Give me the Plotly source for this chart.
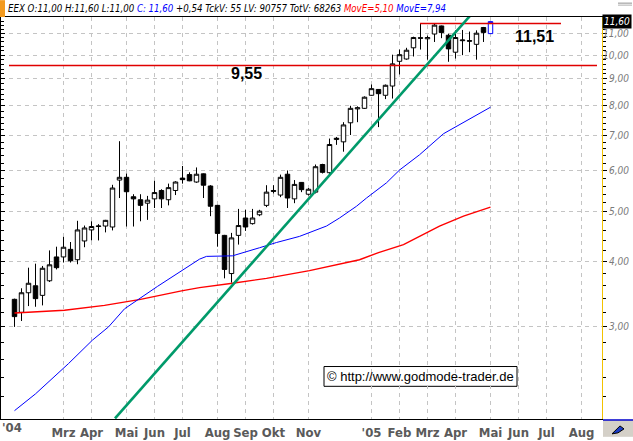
import math
import pandas as pd
import plotly.graph_objects as go

# ---------------- data ----------------
first_week = "2004-01-12"

opens = [3.39, 3.20, 3.49, 3.60, 3.45, 3.68, 4.09, 4.09, 4.23, 4.04,
         4.39, 4.61, 4.68, 4.69, 4.67, 5.75, 5.82, 5.34, 5.27, 5.19,
         5.29, 5.49, 5.27, 5.49, 5.80, 5.89, 5.70, 5.91, 5.60, 5.14,
         4.50, 3.80, 4.50, 4.86, 4.74, 4.93, 5.14, 5.49, 5.38, 5.90,
         5.29, 5.69, 5.40, 5.45, 6.16, 5.94, 6.88, 6.81, 7.41, 7.88,
         7.90, 8.37, 8.59, 8.37, 8.72, 9.73, 9.83, 10.33, 10.80, 10.75,
         10.98, 11.38, 10.92, 10.13, 10.66, 10.66, 10.49, 11.30]
highs = [3.40, 3.56, 3.90, 3.97, 3.93, 4.21, 4.28, 4.47, 4.37, 4.80,
         4.70, 4.79, 4.73, 4.82, 5.63, 6.83, 5.92, 5.40, 5.40, 5.36,
         5.73, 5.52, 5.66, 5.72, 6.12, 5.95, 6.08, 5.92, 5.62, 5.15,
         4.51, 4.55, 5.06, 5.04, 5.06, 5.04, 5.62, 5.62, 5.89, 6.00,
         5.75, 5.70, 5.55, 6.16, 6.18, 6.91, 6.96, 7.43, 7.99, 7.97,
         8.33, 8.78, 8.60, 8.78, 10.02, 10.25, 10.33, 10.85, 11.51, 10.90,
         11.51, 11.40, 11.00, 11.16, 11.18, 11.10, 11.16, 11.33]
lows = [3.00, 3.08, 3.29, 3.28, 3.30, 3.66, 3.87, 3.99, 3.99, 3.96,
        4.27, 4.40, 4.40, 4.56, 4.60, 5.31, 4.68, 4.68, 4.79, 4.82,
        5.08, 5.08, 5.14, 5.38, 5.66, 5.72, 5.68, 5.31, 4.90, 4.28,
        3.72, 3.65, 4.32, 4.59, 4.72, 4.90, 5.10, 5.42, 5.33, 5.08,
        5.19, 5.45, 5.37, 5.42, 5.92, 5.89, 6.72, 6.52, 7.02, 7.43,
        7.88, 8.35, 7.27, 8.23, 8.25, 9.18, 9.80, 9.94, 10.25, 9.80,
        10.60, 10.78, 9.71, 9.85, 10.00, 10.13, 9.80, 10.60]
closes = [3.14, 3.49, 3.64, 3.40, 3.89, 3.95, 3.90, 4.27, 4.02, 4.61,
          4.65, 4.68, 4.69, 4.81, 5.55, 5.82, 5.46, 5.29, 5.14, 5.26,
          5.44, 5.29, 5.56, 5.70, 5.76, 5.73, 5.90, 5.62, 5.12, 4.54,
          3.87, 4.45, 4.70, 4.67, 4.86, 5.01, 5.45, 5.47, 5.82, 5.31,
          5.64, 5.51, 5.52, 6.10, 5.95, 6.73, 6.92, 7.34, 7.90, 7.92,
          8.30, 8.62, 8.43, 8.75, 9.62, 10.02, 10.22, 10.81, 10.78, 10.81,
          11.42, 11.05, 10.28, 10.81, 10.69, 10.64, 11.02, 11.06]

# last (current) week, from the header: O:11,00 H:11,60 L:11,00 C:11,60
last_ohlc = [11.00, 11.60, 11.00, 11.60]

# long moving average (red, MovE=5,10)
red_ma_dates = ["2004-01-12", "2004-03-02", "2004-04-11", "2004-05-17", "2004-06-27",
                "2004-07-15", "2004-08-17", "2004-09-20", "2004-11-02", "2004-12-22",
                "2005-01-10", "2005-02-04", "2005-03-12", "2005-04-05", "2005-05-02"]
red_ma_vals = [3.19, 3.23, 3.30, 3.39, 3.52, 3.57, 3.64, 3.72, 3.85, 4.04,
               4.17, 4.32, 4.69, 4.90, 5.10]

# shorter moving average (blue, MovE=7,94)
blue_ma_dates = ["2004-01-12", "2004-02-02", "2004-03-06", "2004-03-30", "2004-04-15",
                 "2004-05-01", "2004-06-03", "2004-06-25", "2004-07-15", "2004-07-22",
                 "2004-08-17", "2004-09-13", "2004-09-30", "2004-10-23", "2004-11-19",
                 "2004-12-02", "2004-12-19", "2004-12-29", "2005-01-18", "2005-01-31",
                 "2005-02-20", "2005-03-16", "2005-05-02"]
blue_ma_vals = [2.07, 2.23, 2.55, 2.83, 3.00, 3.25, 3.59, 3.82, 4.05, 4.10,
                4.11, 4.26, 4.36, 4.48, 4.69, 4.86, 5.12, 5.31, 5.68, 6.01,
                6.43, 7.06, 7.94]

# green support trend line (two anchor points)
trend_dates = ["2004-04-21 12:00", "2005-04-11 12:00"]
trend_vals = [2.0, 11.9]

# horizontal levels
support_level = 9.55
support_dates = ["2004-01-06 12:00", "2005-08-16 12:00"]
resist_level = 11.51
resist_dates = ["2005-02-20 12:00", "2005-07-11 12:00"]

# axis ticks
month_tick_dates = ["2004-03-01", "2004-03-29", "2004-05-03", "2004-05-31", "2004-06-28",
                    "2004-08-02", "2004-08-30", "2004-09-27", "2004-11-01", "2005-01-03",
                    "2005-01-31", "2005-02-28", "2005-03-28", "2005-05-02", "2005-05-30",
                    "2005-06-27", "2005-08-01"]
month_tick_labels = ["Mrz", "Apr", "Mai", "Jun", "Jul", "Aug", "Sep", "Okt", "Nov", "'05",
                     "Feb", "Mrz", "Apr", "Mai", "Jun", "Jul", "Aug"]
price_ticks = [3, 4, 5, 6, 7, 8, 9, 10, 11]
price_tick_labels = ["3,00", "4,00", "5,00", "6,00", "7,00", "8,00", "9,00", "10,00", "11,00"]
minor_price_ticks = [round(2.0 + 0.2 * i, 2) for i in range(50)]
minor_price_ticks = [v for v in minor_price_ticks if v <= 11.8 and abs(v - round(v)) > 1e-6]

# ---------------- layout geometry ----------------
W, H = 633, 441
ML, MR, MT, MB = 1, 31, 17, 18
PW, PH = W - ML - MR, H - MT - MB


def px(xp):
    return (xp - ML) / PW


def py(yp):
    return (H - MB - yp) / PH


dates = pd.date_range(first_week, periods=len(opens) + 1, freq="7D")

fig = go.Figure()

# moving averages
fig.add_trace(go.Scatter(x=red_ma_dates, y=red_ma_vals, mode="lines",
                         line=dict(color="#ff0000", width=1.4), hoverinfo="skip"))
fig.add_trace(go.Scatter(x=blue_ma_dates, y=blue_ma_vals, mode="lines",
                         line=dict(color="#0000ff", width=1), hoverinfo="skip"))

# horizontal levels
fig.add_trace(go.Scatter(x=support_dates, y=[support_level] * 2, mode="lines",
                         line=dict(color="#e00000", width=1.5), hoverinfo="skip"))
fig.add_trace(go.Scatter(x=resist_dates, y=[resist_level] * 2, mode="lines",
                         line=dict(color="#e00000", width=1.5), hoverinfo="skip"))

# candles
fig.add_trace(go.Candlestick(
    x=dates[:-1], open=opens, high=highs, low=lows, close=closes,
    increasing=dict(line=dict(color="#000000", width=1), fillcolor="#ffffff"),
    decreasing=dict(line=dict(color="#000000", width=1), fillcolor="#000000"),
    whiskerwidth=0, hoverinfo="skip"))
fig.add_trace(go.Candlestick(
    x=[dates[-1]], open=[last_ohlc[0]], high=[last_ohlc[1]],
    low=[last_ohlc[2]], close=[last_ohlc[3]],
    increasing=dict(line=dict(color="#0000ff", width=1), fillcolor="#ffffff"),
    decreasing=dict(line=dict(color="#0000ff", width=1), fillcolor="#ffffff"),
    whiskerwidth=0, hoverinfo="skip"))

# trend line
fig.add_trace(go.Scatter(x=trend_dates, y=trend_vals, mode="lines",
                         line=dict(color="#009a6a", width=2.6), hoverinfo="skip"))

# hidden trace to carry the left y axis
fig.add_trace(go.Scatter(x=[dates[0]], y=[3], yaxis="y2", mode="markers",
                         marker=dict(opacity=0), hoverinfo="skip"))

yr = [math.log10(1.995), math.log10(11.84)]
grid = dict(gridcolor="#c4c4c4", griddash="4px,4px", gridwidth=1)
narrow = "Liberation Sans Narrow, DejaVu Sans Condensed, Arial Narrow, sans-serif"
ital = "DejaVu Sans Condensed, Liberation Sans, sans-serif"

fig.update_layout(
    width=W, height=H, margin=dict(l=ML, r=MR, t=MT, b=MB),
    paper_bgcolor="#ffffff", plot_bgcolor="#ffffff", showlegend=False,
    hovermode=False, boxgap=0.25, boxgroupgap=0.15,
    xaxis=dict(type="date", range=["2003-12-29 12:00", "2005-08-21 12:00"],
               tickmode="array", tickvals=month_tick_dates, ticktext=month_tick_labels,
               tickangle=0, ticklabelstandoff=1,
               showline=True, linecolor="#000000", linewidth=1, mirror=True,
               ticks="", showgrid=True, **grid,
               tickfont=dict(family=narrow, size=13, color="#5a5a5a", weight="bold"),
               rangeslider=dict(visible=False), zeroline=False, fixedrange=True),
    yaxis=dict(type="log", range=yr, side="right", tickmode="array",
               tickvals=price_ticks, showticklabels=False,
               ticks="outside", ticklen=4, tickcolor="#000000", tickwidth=1,
               minor=dict(tickmode="array", tickvals=minor_price_ticks, ticks="outside",
                          ticklen=3, tickcolor="#000000", showgrid=False),
               showline=True, linecolor="#f2c200", linewidth=1,
               showgrid=True, **grid, zeroline=False, fixedrange=True),
    yaxis2=dict(type="log", range=yr, side="left", overlaying="y", tickmode="array",
                tickvals=price_ticks, showticklabels=False,
                ticks="inside", ticklen=4, tickcolor="#000000", tickwidth=1,
                minor=dict(tickmode="array", tickvals=minor_price_ticks, ticks="inside",
                           ticklen=3, tickcolor="#000000", showgrid=False),
                showline=True, linecolor="#000000", linewidth=1,
                showgrid=False, zeroline=False, fixedrange=True),
)

ann = []
# price labels on the right, right-aligned
for v, t in zip(price_ticks, price_tick_labels):
    ann.append(dict(x=px(631), xref="paper", y=math.log10(v), yref="y", text=t,
                    showarrow=False, xanchor="right", yanchor="middle",
                    font=dict(family=ital, size=10, color="#7a7a7a", style="italic")))
# last price box
ann.append(dict(x=px(632), xref="paper", y=math.log10(last_ohlc[3]), yref="y",
                text="11,60", showarrow=False, xanchor="right", yanchor="middle",
                bgcolor="#000000", borderpad=1,
                font=dict(family=ital, size=10, color="#ffffff", style="italic")))
# '04 year label
ann.append(dict(x=px(12), xref="paper", y=py(432), yref="paper", text="'04",
                showarrow=False, xanchor="center", yanchor="middle",
                font=dict(family=narrow, size=13, color="#5a5a5a", weight="bold")))
# level labels
ann.append(dict(x=px(246), xref="paper", y=py(74), yref="paper", text="9,55",
                showarrow=False, xanchor="center", yanchor="middle",
                font=dict(family="Liberation Sans, Arial, sans-serif", size=16,
                          color="#000000", weight="bold")))
ann.append(dict(x=px(534), xref="paper", y=py(37), yref="paper", text="11,51",
                showarrow=False, xanchor="center", yanchor="middle",
                font=dict(family="Liberation Sans, Arial, sans-serif", size=16,
                          color="#000000", weight="bold")))
# header line
header = ("EEX O:11,00 H:11,60 L:11,00 <span style='color:#0000ff'>C: 11,60</span> "
          "+0,54 TckV: 55 LV: 90757 TotV: 68263 "
          "<span style='color:#ff0000'>MovE=5,10</span> "
          "<span style='color:#0000ff'>MovE=7,94</span>")
ann.append(dict(x=px(6), xref="paper", y=py(8), yref="paper", text=header,
                showarrow=False, xanchor="left", yanchor="middle",
                font=dict(family=ital, size=9.6, color="#000000", style="italic")))
# copyright box
ann.append(dict(x=px(420), xref="paper", y=py(380), yref="paper",
                text="© http://www.godmode-trader.de", showarrow=False,
                xanchor="center", yanchor="middle",
                font=dict(family="Liberation Sans, Arial, sans-serif", size=13,
                          color="#000000")))
fig.update_layout(annotations=ann)

shapes = [
    # orange marker in header
    dict(type="rect", xref="paper", yref="paper", x0=px(0), x1=px(5), y0=py(17), y1=py(0),
         fillcolor="#f39a1e", line=dict(width=0), layer="above"),
    # copyright frame
    dict(type="rect", xref="paper", yref="paper", x0=px(324), x1=px(517), y0=py(390), y1=py(370),
         fillcolor="#ffffff", line=dict(color="#000000", width=1), layer="below"),
    # bottom-right corner box
    dict(type="rect", xref="paper", yref="paper", x0=px(603), x1=px(633), y0=py(441), y1=py(424),
         fillcolor="#d4d0c8", line=dict(width=0), layer="above"),
    dict(type="line", xref="paper", yref="paper", x0=px(603), x1=px(633), y0=py(424), y1=py(424),
         line=dict(color="#0000cc", width=1.5)),
    dict(type="path", xref="paper", yref="paper",
         path=f"M {px(612)} {py(438)} L {px(620)} {py(430)} L {px(624)} {py(433)} L {px(618)} {py(437)} Z",
         fillcolor="#1a3cc8", line=dict(color="#000000", width=1)),
    # top-right gray mark
    dict(type="line", xref="paper", yref="paper", x0=px(618), x1=px(632), y0=py(3), y1=py(3),
         line=dict(color="#909090", width=1)),
    dict(type="line", xref="paper", yref="paper", x0=px(618), x1=px(632), y0=py(5), y1=py(5),
         line=dict(color="#b0b0b0", width=1)),
]
fig.update_layout(shapes=shapes)

fig.write_html("out.html",
               config={"displayModeBar": False, "staticPlot": True},
               post_script="document.body.style.margin='0';document.body.style.padding='0';"
                           "document.body.style.overflow='hidden';")
